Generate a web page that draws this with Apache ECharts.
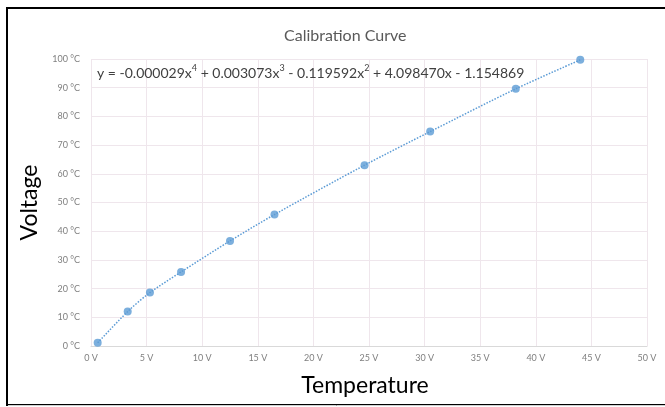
<!DOCTYPE html>
<html>
<head>
<meta charset="utf-8">
<script src="https://cdn.jsdelivr.net/npm/echarts@6/dist/echarts.min.js"></script>
<style>
  html, body { margin: 0; padding: 0; background: #fff; }
  #container { width: 665px; height: 407px; }
</style>
</head>
<body>
<div id="container"></div>
<script>
// temperature (V) and voltage (°C) readings
var temperature = [0.6, 3.3, 5.3, 8.1, 12.5, 16.5, 24.6, 30.5, 38.2, 44.0];
var voltage = [1.1, 12.0, 18.6, 25.8, 36.6, 45.8, 63.0, 74.7, 89.6, 99.7];
// trendline label, split round the exponents
var equationParts = ['y = -0.000029x', '4', ' + 0.003073x', '3', ' - 0.119592x', '2', ' + 4.098470x - 1.154869'];

var points = [];
for (var i = 0; i < temperature.length; i++) {
  points.push([temperature[i], voltage[i]]);
}

var equationText = '';
for (var k = 0; k < equationParts.length; k++) {
  equationText += (k % 2 === 1) ? '{sup|' + equationParts[k] + '}' : '{eq|' + equationParts[k] + '}';
}

var chart = echarts.init(document.getElementById('container'));
var font = 'Lato, "Open Sans", sans-serif';

var option = {
  animation: false,
  backgroundColor: '#fff',
  textStyle: { fontFamily: font },
  title: {
    text: 'Calibration Curve',
    left: 279,
    top: 23,
    textStyle: { fontFamily: font, fontSize: 16, fontWeight: 'normal', color: '#595959' }
  },
  grid: { left: 91, right: 18, top: 59, bottom: 61 },
  xAxis: {
    type: 'value',
    min: 0,
    max: 50,
    interval: 5,
    name: 'Temperature',
    nameLocation: 'middle',
    nameGap: 28,
    nameTextStyle: { fontFamily: font, fontSize: 23, color: '#000', verticalAlign: 'top', padding: [0, 8, 0, 0] },
    axisLine: { show: true, onZero: false, lineStyle: { color: '#d9d9d9' } },
    axisTick: { show: false },
    axisLabel: { formatter: '{value} V', fontSize: 9, color: '#7f7f7f', margin: 8 },
    splitLine: { show: true, lineStyle: { color: '#efe6ec' } }
  },
  yAxis: {
    type: 'value',
    min: 0,
    max: 100,
    interval: 10,
    name: 'Voltage',
    nameLocation: 'middle',
    nameGap: 43,
    nameTextStyle: { fontFamily: font, fontSize: 23, color: '#000' },
    axisLine: { show: false },
    axisTick: { show: false },
    axisLabel: { formatter: '{value} °C', fontSize: 9, color: '#7f7f7f', margin: 11 },
    splitLine: { show: true, lineStyle: { color: '#efe6ec' } }
  },
  graphic: [
    {
      type: 'rect',
      shape: { x: 7, y: 8, width: 680, height: 397 },
      style: { fill: null, stroke: '#000', lineWidth: 2 },
      z: 100
    },
    {
      type: 'line',
      shape: { x1: 8, y1: 405.5, x2: 665, y2: 405.5 },
      style: { stroke: '#d0d0d0', lineWidth: 1 },
      z: 101
    },
    {
      type: 'text',
      left: 97,
      top: 64,
      style: {
        text: equationText,
        rich: {
          eq: { fontFamily: font, fontSize: 14, fill: '#404040', lineHeight: 20 },
          sup: { fontFamily: font, fontSize: 9, fill: '#404040', lineHeight: 20, padding: [0, 0, 9, 0] }
        }
      },
      z: 50
    }
  ],
  series: [
    {
      name: 'Trendline',
      type: 'line',
      data: points,
      smooth: 0.3,
      showSymbol: false,
      symbol: 'none',
      lineStyle: { color: '#5b9bd5', width: 1.5, type: [1.5, 1.5] },
      z: 2
    },
    {
      name: 'Readings',
      type: 'scatter',
      data: points,
      symbol: 'circle',
      symbolSize: 8,
      itemStyle: { color: '#5b9bd5' },
      z: 3
    }
  ]
};

chart.setOption(option);
</script>
</body>
</html>
